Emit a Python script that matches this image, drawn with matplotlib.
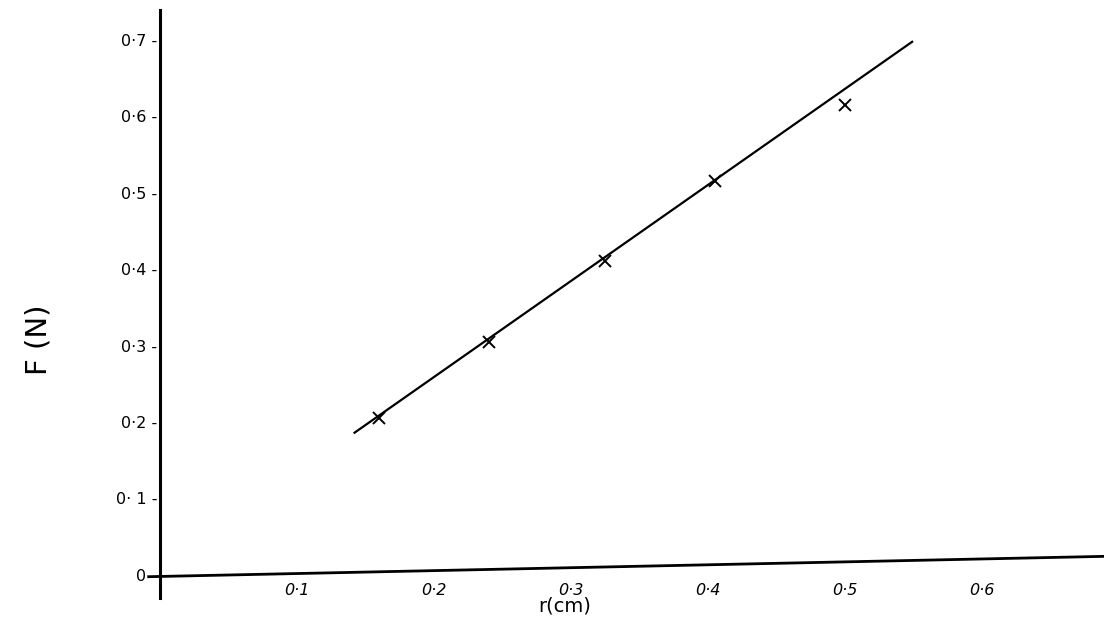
import matplotlib
matplotlib.use("Agg")
import matplotlib.pyplot as plt

# data
r_cm = [0.16, 0.24, 0.325, 0.405, 0.50]
F_N = [0.205, 0.305, 0.41, 0.515, 0.615]
fit_x = [0.142, 0.549]
fit_y = [0.186, 0.697]
x_ticks = [0.1, 0.2, 0.3, 0.4, 0.5, 0.6]
x_ticklabels = ["0·1", "0·2", "0·3", "0·4", "0·5", "0·6"]
y_ticks = [0.0, 0.1, 0.2, 0.3, 0.4, 0.5, 0.6, 0.7]
y_ticklabels = ["0", "0· 1", "0·2", "0·3", "0·4", "0·5", "0·6", "0·7"]

W, H = 1104, 623
fig = plt.figure(figsize=(W / 100, H / 100), dpi=100)
left, bottom = 160 / W, (H - 575) / H
ax = fig.add_axes([left, bottom, 1 - left, (575 - 10) / H])
ax.set_xlim(0, (W - 160) / 1370)
ax.set_ylim(0, (575 - 10) / 765)

for s in ax.spines.values():
    s.set_visible(False)

# hand-style axes lines
ax.plot([0, 0], [-0.04, 1.0], transform=ax.transAxes, color="black", lw=2.2, clip_on=False)
ax.plot([-0.012, 1.0], [-0.003, 0.033], transform=ax.transAxes, color="black", lw=2.0, clip_on=False)

ax.plot(fit_x, fit_y, color="black", lw=1.6)
ax.plot(r_cm, F_N, linestyle="none", marker="x", markersize=9, markeredgewidth=1.4, color="black")

ax.set_xticks(x_ticks)
ax.set_xticklabels(x_ticklabels, fontsize=11.5, style="italic")
ax.set_yticks(y_ticks)
ax.set_yticklabels([t + " -" for t in y_ticklabels], fontsize=11.5)
ax.tick_params(axis="x", length=0, pad=6)
ax.tick_params(axis="y", length=0, pad=2)

fig.text(565 / W, 1 - 606 / H, "r(cm)", fontsize=14, ha="center", va="center")
fig.text(38 / W, 1 - 340 / H, "F (N)", fontsize=21, ha="center", va="center", rotation=90)

fig.savefig("out.png", dpi=100, facecolor="white")
